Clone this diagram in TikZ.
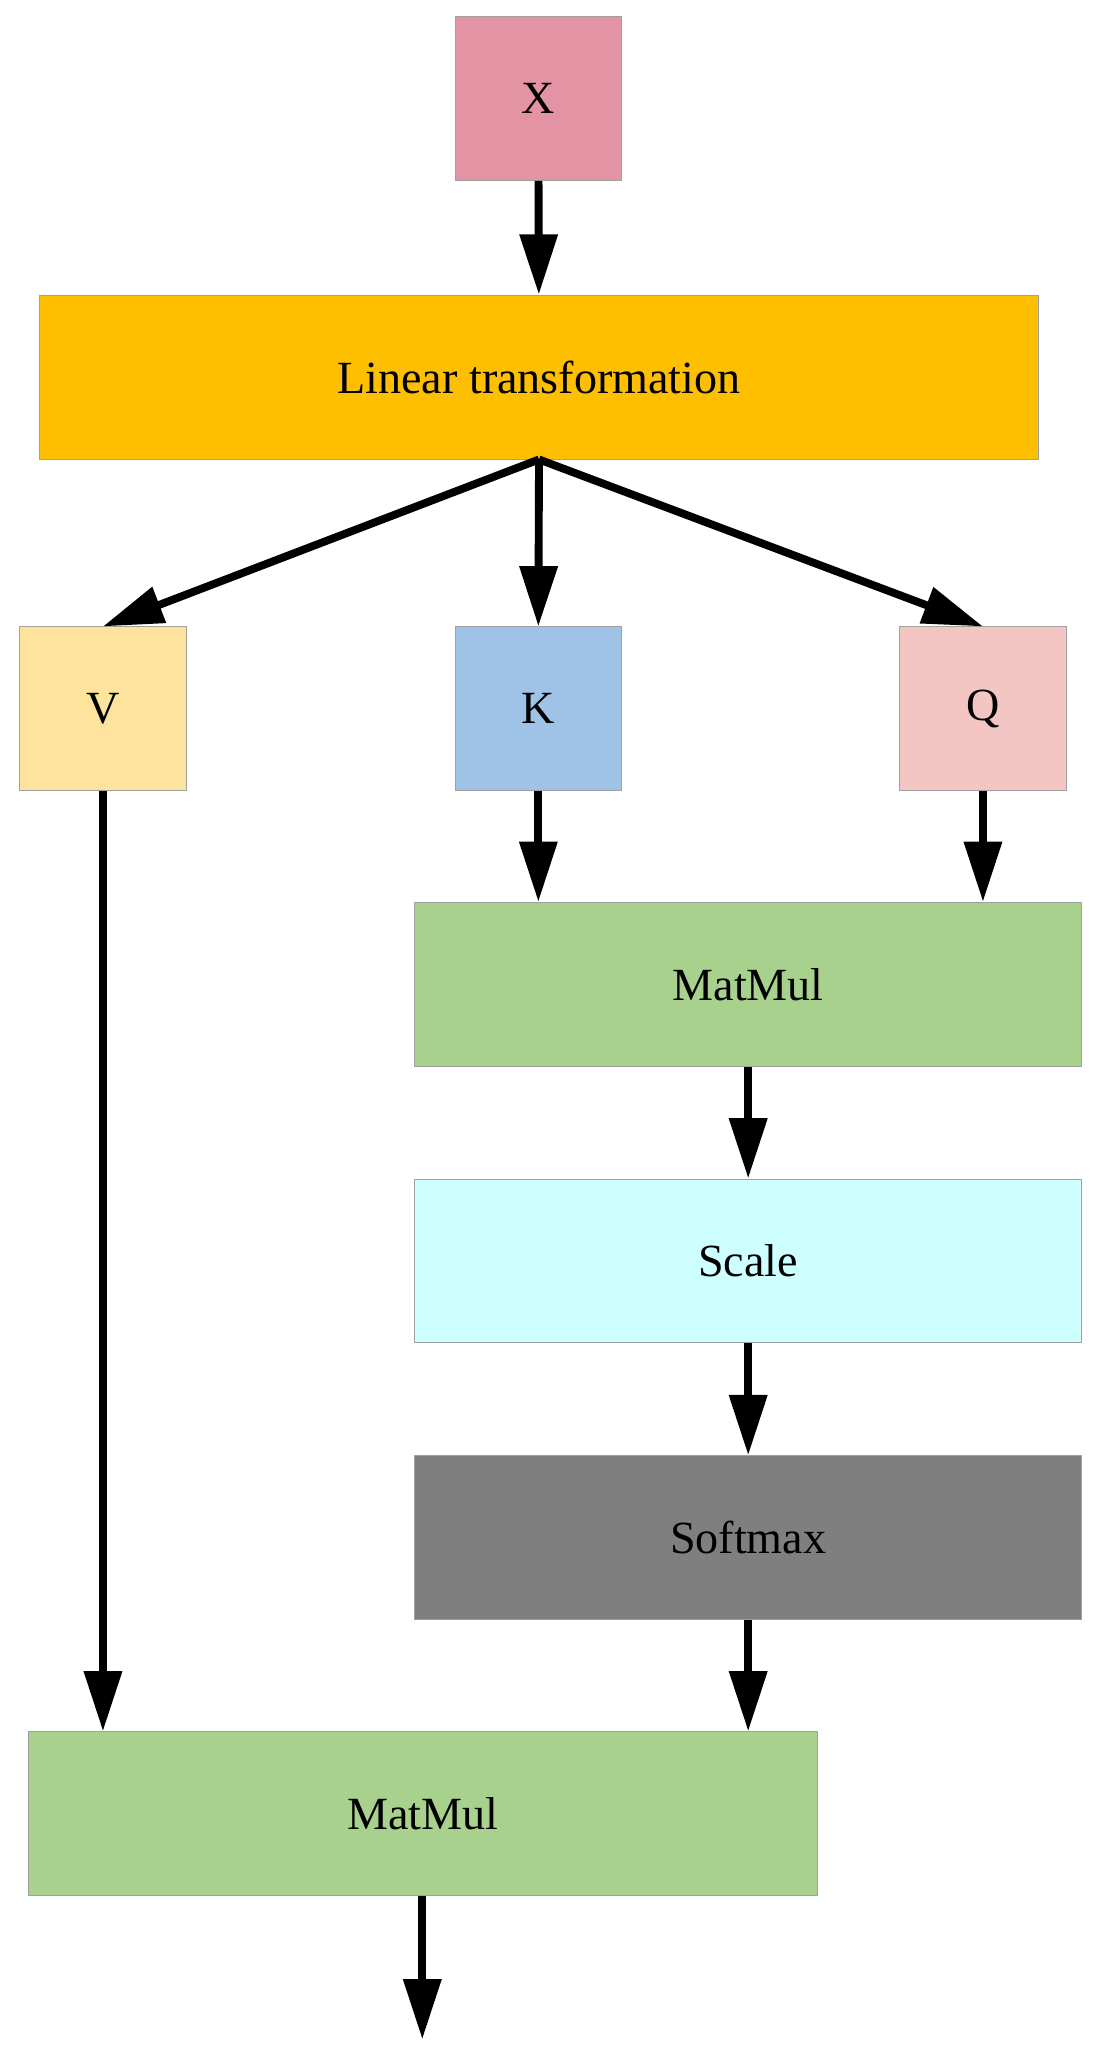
\documentclass[tikz,border=0pt]{standalone}
\usepackage{fontspec}
\setmainfont{Liberation Serif}
\usetikzlibrary{arrows.meta}
\definecolor{cx}{HTML}{E393A3}
\definecolor{clin}{HTML}{FDBF00}
\definecolor{cv}{HTML}{FDE39C}
\definecolor{ck}{HTML}{9FC3E6}
\definecolor{cq}{HTML}{F4C6C3}
\definecolor{cmm}{HTML}{A9D18E}
\definecolor{csc}{HTML}{CCFFFE}
\definecolor{csm}{HTML}{7F7F7F}
\definecolor{cbd}{HTML}{A0A0A0}
\begin{document}
\begin{tikzpicture}[x=0.05cm,y=-0.05cm,
  box/.style={draw=cbd,line width=1pt,minimum height=6.25cm,inner sep=0pt,font=\fontsize{50}{56}\selectfont},
  sq/.style={box,minimum width=6.35cm},
  wide/.style={box,minimum width=25.45cm},
  arr/.style={line width=0.3cm,-{Triangle[length=2.3cm,width=1.4cm]}}]
\useasboundingbox (0,0) rectangle (838,1570);
\node[sq,fill=cx] (x) at (410.5,75) {X};
\node[box,fill=clin,minimum width=38.1cm] (lin) at (411,287.5) {Linear transformation};
\node[sq,fill=cv] (v) at (78.5,540.5) {V};
\node[sq,fill=ck] (k) at (410.5,540.5) {K};
\node[sq,fill=cq] (q) at (749.5,540.5) {Q};
\node[wide,fill=cmm] (mm1) at (570.5,750.5) {MatMul};
\node[wide,fill=csc] (sc) at (570.5,961.5) {Scale};
\node[wide,fill=csm] (sm) at (570.5,1172.5) {Softmax};
\node[box,fill=cmm,minimum width=30.05cm] (mm2) at (322.5,1383) {MatMul};
\coordinate (out) at (322,1555);
\draw[arr] (x) -- (lin);
\draw[arr] (lin.south) -- (v.north);
\draw[arr] (lin.south) -- (k.north);
\draw[arr] (lin.south) -- (q.north);
\draw[arr] (k.south) -- (k.south |- mm1.north);
\draw[arr] (q.south) -- (q.south |- mm1.north);
\draw[arr] (mm1) -- (sc);
\draw[arr] (sc) -- (sm);
\draw[arr] (sm.south) -- (sm.south |- mm2.north);
\draw[arr] (v.south) -- (v.south |- mm2.north);
\draw[arr] (mm2.south -| out) -- (out);
\end{tikzpicture}
\end{document}
